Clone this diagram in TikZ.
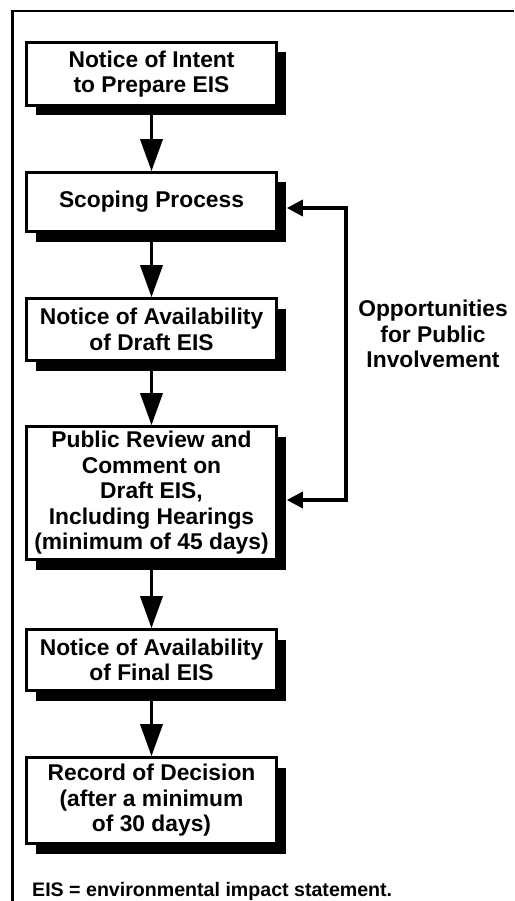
\documentclass[tikz,border=0pt]{standalone}
\usepackage{fontspec}
\setmainfont{Liberation Sans}
\usetikzlibrary{arrows.meta,shadows}
\begin{document}
\begin{tikzpicture}[x=1pt,y=-1pt,
  stepbox/.style={draw, line width=2.6pt, fill=white, minimum width=250pt,
    inner sep=0pt, align=center,
    font=\bfseries\fontsize{22.8}{25.5}\selectfont,
    general shadow={shadow xshift=9.5pt, shadow yshift=-10pt, fill=black}},
  flow/.style={line width=3.5pt, -{Triangle[length=32pt,width=22pt]}},
  side/.style={line width=3.5pt, {Triangle[length=16pt,width=16pt]}-{Triangle[length=16pt,width=16pt]}},
  lbl/.style={align=center, font=\bfseries\fontsize{22.8}{25.5}\selectfont, inner sep=0pt}
]
\useasboundingbox (0,0) rectangle (514,901);
\fill[white] (0,0) rectangle (514,901);
\draw[line width=2.8pt] (12.5,901) -- (12.5,11) -- (514,11);

\node[stepbox, minimum height=63pt] (b1) at (151.5,74) {Notice of Intent\\to Prepare EIS};
\node[stepbox, minimum height=59pt] (b2) at (151.5,202) {Scoping Process};
\node[stepbox, minimum height=62pt] (b3) at (151.5,329.5) {Notice of Availability\\of Draft EIS};
\node[stepbox, minimum height=133pt] (b4) at (151.5,493) {Public Review and\\Comment on\\Draft EIS,\\Including Hearings\\(minimum of 45 days)};
\node[stepbox, minimum height=61pt] (b5) at (151.5,660) {Notice of Availability\\of Final EIS};
\node[stepbox, minimum height=86pt] (b6) at (151.5,800.5) {Record of Decision\\(after a minimum\\of 30 days)};

\draw[flow] (b1.south) -- (b2.north);
\draw[flow] (b2.south) -- (b3.north);
\draw[flow] (b3.south) -- (b4.north);
\draw[flow] (b4.south) -- (b5.north);
\draw[flow] (b5.south) -- (b6.north);

\coordinate (a2) at ([xshift=9pt,yshift=-6pt]b2.east);
\coordinate (a4) at ([xshift=9pt,yshift=-7pt]b4.east);
\coordinate (rail) at (346,0);
\draw[side] (a2) -- (rail |- a2) -- (rail |- a4) -- (a4);

\node[lbl] (opp) at (433,334) {Opportunities\\for Public\\Involvement};
\node[anchor=base west, inner sep=0pt, font=\bfseries\fontsize{19.6}{22}\selectfont] (note) at (32,896) {EIS = environmental impact statement.};
\end{tikzpicture}
\end{document}
